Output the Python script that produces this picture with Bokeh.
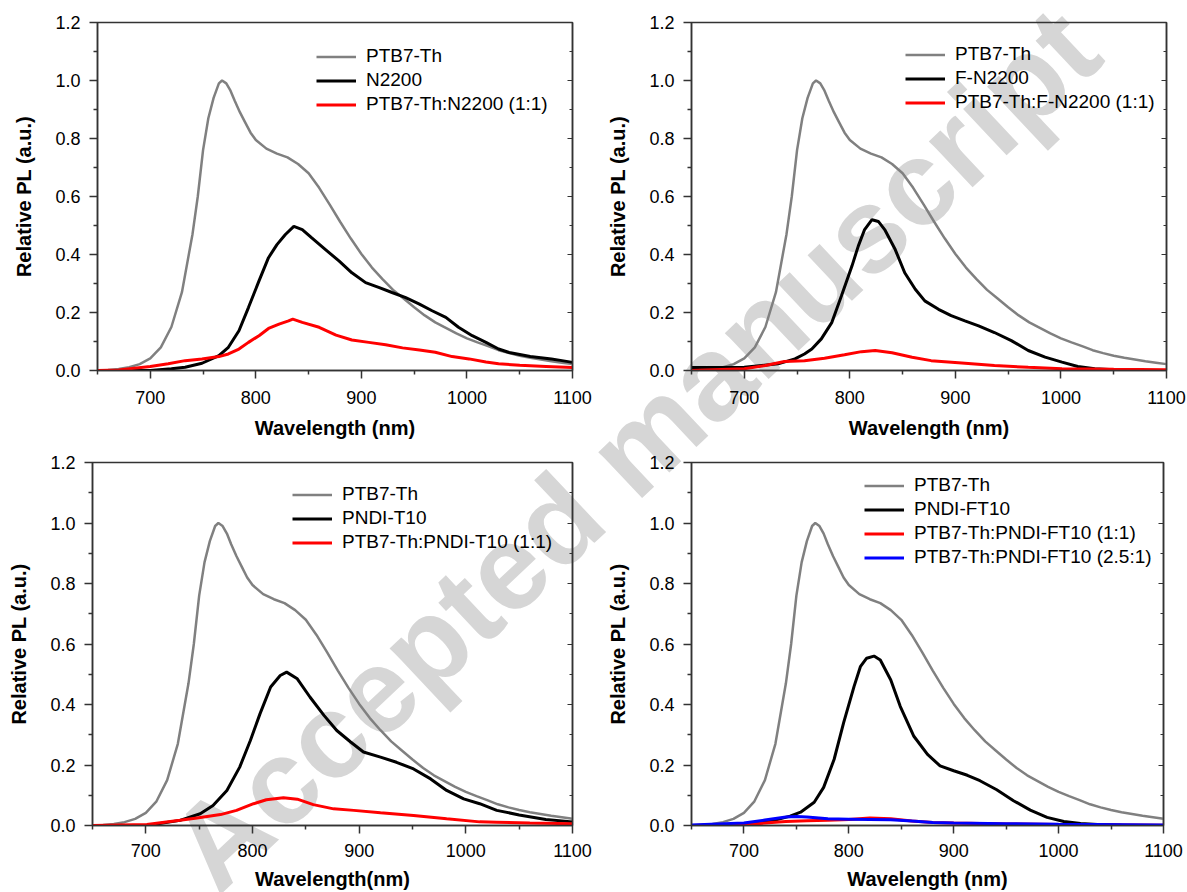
from bokeh.plotting import figure
from bokeh.layouts import column, row
from bokeh.models import (Range1d, FixedTicker, NumeralTickFormatter, LinearAxis,
                          Legend, LegendItem, Div, CustomJSTickFormatter)
from bokeh.embed import file_html
from bokeh.resources import INLINE

FONT = "Liberation Sans"

# ---------------- data ----------------
x_major = [700, 800, 900, 1000, 1100]
x_minor = [650, 750, 850, 950, 1050]
y_major = [0.0, 0.2, 0.4, 0.6, 0.8, 1.0, 1.2]
y_minor = [0.1, 0.3, 0.5, 0.7, 0.9, 1.1]

# PTB7-Th (same reference spectrum in every panel)
wl_ptb7 = [650, 660, 670, 680, 690, 700, 710, 720, 730, 740, 745, 750, 755, 760, 765, 768,
           772, 776, 780, 785, 790, 795, 800, 810, 820, 830, 840, 850, 860, 870, 880, 890,
           900, 910, 920, 930, 940, 950, 960, 970, 980, 990, 1000, 1010, 1020, 1030, 1040,
           1050, 1060, 1070, 1080, 1090, 1100]
pl_ptb7 = [0.0, 0.002, 0.005, 0.011, 0.022, 0.042, 0.08, 0.15, 0.27, 0.47, 0.6, 0.76, 0.87,
           0.94, 0.99, 1.0, 0.99, 0.965, 0.93, 0.89, 0.855, 0.82, 0.795, 0.765, 0.748, 0.735,
           0.712, 0.68, 0.63, 0.572, 0.512, 0.455, 0.402, 0.355, 0.315, 0.278, 0.248, 0.218,
           0.19, 0.166, 0.147, 0.128, 0.111, 0.097, 0.084, 0.07, 0.06, 0.051, 0.044, 0.038,
           0.032, 0.027, 0.022]

# Panel 1
wl_n2200 = [650, 700, 720, 733, 749, 765, 774, 784, 793, 803, 812, 820, 828, 836, 844, 853,
            866, 879, 891, 904, 917, 929, 942, 955, 967, 980, 992, 1005, 1018, 1030, 1040,
            1050, 1060, 1070, 1080, 1090, 1100]
pl_n2200 = [0.0, 0.0, 0.006, 0.011, 0.025, 0.051, 0.08, 0.137, 0.217, 0.309, 0.389, 0.434,
            0.469, 0.497, 0.486, 0.457, 0.417, 0.377, 0.337, 0.303, 0.286, 0.269, 0.251,
            0.229, 0.206, 0.183, 0.149, 0.12, 0.097, 0.074, 0.062, 0.055, 0.048, 0.044,
            0.04, 0.034, 0.028]
wl_blend_n2200 = [650, 670, 700, 717, 733, 749, 765, 774, 784, 793, 803, 812, 822, 831, 835,
                  844, 860, 876, 891, 907, 923, 939, 955, 970, 986, 1002, 1018, 1030, 1050,
                  1075, 1100]
pl_blend_n2200 = [0.0, 0.002, 0.014, 0.023, 0.034, 0.04, 0.048, 0.057, 0.074, 0.097, 0.12,
                  0.145, 0.16, 0.171, 0.177, 0.166, 0.149, 0.122, 0.105, 0.097, 0.089, 0.078,
                  0.071, 0.063, 0.048, 0.04, 0.029, 0.023, 0.018, 0.014, 0.01]

# Panel 2
wl_fn2200 = [650, 700, 732, 748, 757, 764, 773, 783, 792, 802, 808, 814, 821, 827, 833, 843,
             852, 862, 871, 884, 896, 909, 922, 937, 953, 969, 985, 1001, 1016, 1032, 1050,
             1075, 1100]
pl_fn2200 = [0.01, 0.011, 0.023, 0.04, 0.057, 0.074, 0.109, 0.166, 0.257, 0.36, 0.429, 0.486,
             0.52, 0.514, 0.486, 0.417, 0.337, 0.28, 0.24, 0.211, 0.189, 0.171, 0.154, 0.131,
             0.103, 0.069, 0.046, 0.029, 0.014, 0.006, 0.003, 0.001, 0.0]
wl_blend_fn2200 = [650, 700, 720, 738, 757, 776, 795, 811, 824, 840, 859, 877, 906, 937, 969,
                   1001, 1050, 1100]
pl_blend_fn2200 = [0.0, 0.006, 0.017, 0.031, 0.034, 0.042, 0.054, 0.065, 0.069, 0.061, 0.046,
                   0.034, 0.026, 0.017, 0.011, 0.006, 0.004, 0.003]

# Panel 3
wl_t10 = [650, 701, 732, 751, 763, 776, 788, 798, 807, 817, 826, 832, 842, 854, 867, 879, 892,
          904, 920, 935, 951, 967, 982, 998, 1013, 1029, 1050, 1075, 1100]
pl_t10 = [0.0, 0.0, 0.017, 0.039, 0.066, 0.116, 0.193, 0.281, 0.369, 0.458, 0.496, 0.507,
          0.485, 0.424, 0.364, 0.314, 0.276, 0.243, 0.226, 0.209, 0.187, 0.154, 0.116, 0.088,
          0.072, 0.05, 0.035, 0.02, 0.012]
wl_blend_t10 = [650, 701, 732, 748, 770, 785, 801, 813, 829, 842, 857, 876, 895, 920, 951,
                982, 1013, 1029, 1060, 1100]
pl_blend_t10 = [0.0, 0.003, 0.017, 0.025, 0.036, 0.05, 0.072, 0.085, 0.092, 0.087, 0.069,
                0.055, 0.05, 0.042, 0.033, 0.022, 0.012, 0.011, 0.008, 0.006]

# Panel 4
wl_ft10 = [650, 700, 728, 744, 754, 767, 776, 786, 795, 805, 811, 817, 824, 830, 840, 849, 862,
           875, 887, 900, 913, 925, 941, 957, 973, 989, 1005, 1021, 1037, 1060, 1100]
pl_ft10 = [0.0, 0.002, 0.016, 0.031, 0.044, 0.077, 0.126, 0.219, 0.339, 0.46, 0.525, 0.553,
           0.56, 0.547, 0.481, 0.394, 0.295, 0.235, 0.197, 0.181, 0.166, 0.148, 0.118, 0.082,
           0.051, 0.027, 0.013, 0.007, 0.003, 0.001, 0.0]
wl_blend_ft10_11 = [650, 700, 720, 740, 760, 780, 800, 820, 840, 860, 880, 900, 950, 1000, 1100]
pl_blend_ft10_11 = [0.0, 0.003, 0.008, 0.013, 0.016, 0.017, 0.02, 0.025, 0.022, 0.015, 0.01,
                    0.008, 0.005, 0.003, 0.001]
wl_blend_ft10_251 = [650, 700, 720, 740, 750, 760, 780, 800, 820, 840, 860, 880, 900, 950,
                     1000, 1100]
pl_blend_ft10_251 = [0.002, 0.008, 0.018, 0.028, 0.03, 0.028, 0.022, 0.021, 0.02, 0.019,
                     0.015, 0.01, 0.008, 0.006, 0.004, 0.002]

WATERMARK = "Accepted manuscript"

# ---------------- styling / layout ----------------
GRAY, BLACK, RED, BLUE = "#808080", "#000000", "#ff0000", "#0000ff"
AXIS_COLOR = "#333333"
WIDTHS = {GRAY: 2.5, BLACK: 3, RED: 3, BLUE: 3}


def make_panel(width, height, bl, br, bt, bb, series, legend_xy, xlabel, bottom_row=False):
    p = figure(width=width, height=height, x_range=Range1d(650, 1100),
               y_range=Range1d(0, 1.2), output_backend="svg", toolbar_location=None,
               min_border_left=bl, min_border_right=br, min_border_top=bt,
               min_border_bottom=bb, x_axis_label=xlabel, y_axis_label="Relative PL (a.u.)")
    p.grid.visible = False
    p.background_fill_alpha = 0
    p.border_fill_alpha = 0
    p.outline_line_color = AXIS_COLOR
    p.outline_line_width = 1.5

    xa = p.xaxis[0]
    xa.ticker = FixedTicker(ticks=x_major, minor_ticks=x_minor)
    ya = p.yaxis[0]
    ya.ticker = FixedTicker(ticks=y_major, minor_ticks=y_minor)
    ya.formatter = NumeralTickFormatter(format="0.0")
    for ax in (xa, ya):
        ax.axis_line_color = AXIS_COLOR
        ax.axis_line_width = 1.5
        ax.major_tick_line_color = AXIS_COLOR
        ax.minor_tick_line_color = AXIS_COLOR
        ax.major_tick_line_width = 1.5
        ax.minor_tick_line_width = 1.5
        ax.major_tick_out = 8
        ax.major_tick_in = 0
        ax.minor_tick_out = 4
        ax.minor_tick_in = 0
        ax.major_label_text_font = FONT
        ax.major_label_text_font_size = "18px"
        ax.major_label_text_color = "black"
        ax.axis_label_text_font = FONT
        ax.axis_label_text_font_size = "20px"
        ax.axis_label_text_font_style = "bold"
        ax.axis_label_text_color = "black"
    ya.major_label_standoff = 9
    ya.axis_label_standoff = 17
    if bottom_row:
        xa.major_label_standoff = 10
        xa.axis_label_standoff = 8
    else:
        xa.major_label_standoff = 12
        xa.axis_label_standoff = 10

    ra = LinearAxis(ticker=FixedTicker(ticks=y_major, minor_ticks=y_minor),
                    formatter=CustomJSTickFormatter(code="return ''"))
    ra.axis_line_color = AXIS_COLOR
    ra.axis_line_width = 1.5
    ra.major_tick_line_color = AXIS_COLOR
    ra.minor_tick_line_color = AXIS_COLOR
    ra.major_tick_in = 5
    ra.major_tick_out = 0
    ra.minor_tick_in = 3
    ra.minor_tick_out = 0
    ra.major_label_standoff = 0
    ra.major_label_text_font_size = "1px"
    p.add_layout(ra, "right")

    items = []
    for label, xs, ys, color in series:
        r = p.line(xs, ys, line_color=color, line_width=WIDTHS[color])
        items.append(LegendItem(label=label, renderers=[r]))
    lg = Legend(items=items, location=legend_xy)
    lg.border_line_color = None
    lg.background_fill_alpha = 0
    lg.padding = 0
    lg.margin = 0
    lg.spacing = 2
    lg.glyph_width = 40
    lg.glyph_height = 21
    lg.label_height = 21
    lg.label_standoff = 10
    lg.label_text_font = FONT
    lg.label_text_font_size = "19px"
    lg.label_text_color = "black"
    p.add_layout(lg)
    return p


p1 = make_panel(598, 446, 97, 26, 20, 76,
                [("PTB7-Th", wl_ptb7, pl_ptb7, GRAY),
                 ("N2200", wl_n2200, pl_n2200, BLACK),
                 ("PTB7-Th:N2200 (1:1)", wl_blend_n2200, pl_blend_n2200, RED)],
                (219, 255), "Wavelength (nm)")
p2 = make_panel(589, 446, 93, 21, 22, 74,
                [("PTB7-Th", wl_ptb7, pl_ptb7, GRAY),
                 ("F-N2200", wl_fn2200, pl_fn2200, BLACK),
                 ("PTB7-Th:F-N2200 (1:1)", wl_blend_fn2200, pl_blend_fn2200, RED)],
                (214, 257), "Wavelength (nm)")
p3 = make_panel(598, 446, 92, 26, 16, 67,
                [("PTB7-Th", wl_ptb7, pl_ptb7, GRAY),
                 ("PNDI-T10", wl_t10, pl_t10, BLACK),
                 ("PTB7-Th:PNDI-T10 (1:1)", wl_blend_t10, pl_blend_t10, RED)],
                (200, 272), "Wavelength(nm)", bottom_row=True)
p4 = make_panel(589, 446, 93, 24, 15, 65,
                [("PTB7-Th", wl_ptb7, pl_ptb7, GRAY),
                 ("PNDI-FT10", wl_ft10, pl_ft10, BLACK),
                 ("PTB7-Th:PNDI-FT10 (1:1)", wl_blend_ft10_11, pl_blend_ft10_11, RED),
                 ("PTB7-Th:PNDI-FT10 (2.5:1)", wl_blend_ft10_251, pl_blend_ft10_251, BLUE)],
                (173, 257), "Wavelength (nm)", bottom_row=True)

# light-gray diagonal stamp lying behind the four panels
WM_CX, WM_CY = 634, 448
stamp_html = (
    f'<div style="position:absolute; left:{WM_CX}px; top:{WM_CY}px; '
    'transform: translate(-50%, -50%) rotate(-43.25deg); white-space: nowrap; '
    "font-family: 'Liberation Sans', Arial, sans-serif; font-size: 120px; "
    f'font-weight: bold; color: #d6d6d6; line-height: 1.15;">{WATERMARK}</div>'
)
wm = Div(text=stamp_html, width=1187, height=892,
         styles={"position": "absolute", "left": "0px", "top": "0px", "margin": "0",
                 "width": "1187px", "height": "892px", "z-index": "-1",
                 "pointer-events": "none"})

layout = column(row(p1, p2), row(p3, p4), wm,
                styles={"position": "relative", "overflow": "hidden"})
open("out.html", "w").write(file_html(layout, INLINE))
